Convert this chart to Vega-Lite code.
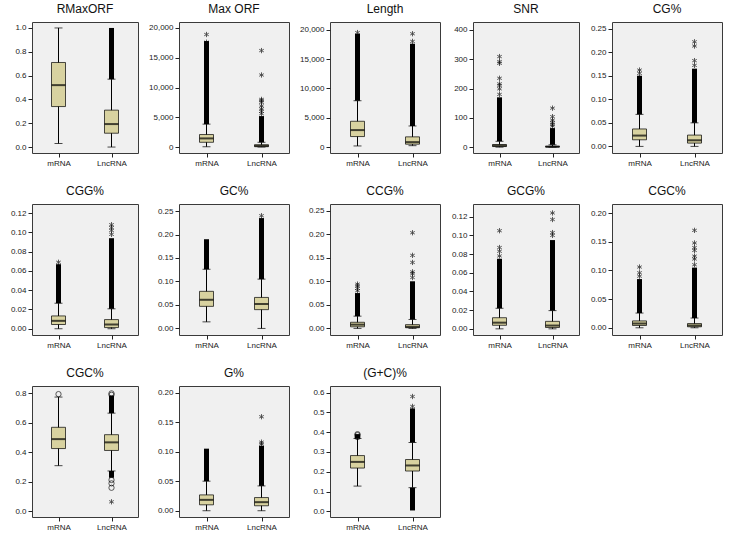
{
"$schema": "https://vega.github.io/schema/vega-lite/v6.json",
"background": "white",
"padding": {"left": 9, "right": 2, "top": 2, "bottom": 0},
"columns": 5,
"spacing": {"row": 16, "column": 9},
"datasets": {
"stats": [
{"panel":"RMaxORF","group":"mRNA","lo":0.03,"q1":0.34,"med":0.52,"q3":0.71,"hi":1.0},
{"panel":"RMaxORF","group":"LncRNA","lo":0,"q1":0.116,"med":0.193,"q3":0.31,"hi":0.57},
{"panel":"MaxORF","group":"mRNA","lo":50,"q1":800,"med":1450,"q3":2100,"hi":3850},
{"panel":"MaxORF","group":"LncRNA","lo":0,"q1":60,"med":200,"q3":390,"hi":800},
{"panel":"Length","group":"mRNA","lo":200,"q1":1800,"med":2900,"q3":4400,"hi":7900},
{"panel":"Length","group":"LncRNA","lo":250,"q1":500,"med":850,"q3":1750,"hi":3600},
{"panel":"SNR","group":"mRNA","lo":0,"q1":2,"med":5,"q3":9,"hi":20},
{"panel":"SNR","group":"LncRNA","lo":0,"q1":0.5,"med":1.5,"q3":3,"hi":8},
{"panel":"CG%","group":"mRNA","lo":0,"q1":0.014,"med":0.023,"q3":0.037,"hi":0.068},
{"panel":"CG%","group":"LncRNA","lo":0,"q1":0.007,"med":0.013,"q3":0.024,"hi":0.05},
{"panel":"CGG%","group":"mRNA","lo":0,"q1":0.0044,"med":0.0082,"q3":0.0133,"hi":0.0265},
{"panel":"CGG%","group":"LncRNA","lo":0,"q1":0.0012,"med":0.0044,"q3":0.0095,"hi":0.0207},
{"panel":"GC%","group":"mRNA","lo":0.014,"q1":0.047,"med":0.061,"q3":0.079,"hi":0.126},
{"panel":"GC%","group":"LncRNA","lo":0,"q1":0.04,"med":0.052,"q3":0.066,"hi":0.105},
{"panel":"CCG%","group":"mRNA","lo":0,"q1":0.0034,"med":0.008,"q3":0.013,"hi":0.026},
{"panel":"CCG%","group":"LncRNA","lo":0,"q1":0.0014,"med":0.0034,"q3":0.008,"hi":0.019},
{"panel":"GCG%","group":"mRNA","lo":0,"q1":0.0038,"med":0.0066,"q3":0.0119,"hi":0.022},
{"panel":"GCG%","group":"LncRNA","lo":0,"q1":0.0014,"med":0.0035,"q3":0.008,"hi":0.0195},
{"panel":"CGC%_1","group":"mRNA","lo":0,"q1":0.004,"med":0.0074,"q3":0.012,"hi":0.0257},
{"panel":"CGC%_1","group":"LncRNA","lo":0,"q1":0.0017,"med":0.004,"q3":0.0074,"hi":0.017},
{"panel":"CGC%_2","group":"mRNA","lo":0.31,"q1":0.426,"med":0.49,"q3":0.57,"hi":0.775},
{"panel":"CGC%_2","group":"LncRNA","lo":0.274,"q1":0.413,"med":0.468,"q3":0.52,"hi":0.666},
{"panel":"G%","group":"mRNA","lo":0,"q1":0.01,"med":0.0184,"q3":0.0268,"hi":0.05},
{"panel":"G%","group":"LncRNA","lo":0,"q1":0.0084,"med":0.0145,"q3":0.0223,"hi":0.042},
{"panel":"(G+C)%","group":"mRNA","lo":0.128,"q1":0.219,"med":0.25,"q3":0.282,"hi":0.368},
{"panel":"(G+C)%","group":"LncRNA","lo":0.12,"q1":0.204,"med":0.232,"q3":0.262,"hi":0.348}
],
"dense": [
{"panel":"RMaxORF","group":"LncRNA","lo":0.57,"hi":1.0},
{"panel":"MaxORF","group":"mRNA","lo":3850,"hi":17800},
{"panel":"MaxORF","group":"LncRNA","lo":800,"hi":5200},
{"panel":"Length","group":"mRNA","lo":7900,"hi":19300},
{"panel":"Length","group":"LncRNA","lo":3600,"hi":17600},
{"panel":"SNR","group":"mRNA","lo":20,"hi":170},
{"panel":"SNR","group":"LncRNA","lo":8,"hi":65},
{"panel":"CG%","group":"mRNA","lo":0.068,"hi":0.15},
{"panel":"CG%","group":"LncRNA","lo":0.05,"hi":0.165},
{"panel":"CGG%","group":"mRNA","lo":0.0265,"hi":0.067},
{"panel":"CGG%","group":"LncRNA","lo":0.0207,"hi":0.094},
{"panel":"GC%","group":"mRNA","lo":0.126,"hi":0.19},
{"panel":"GC%","group":"LncRNA","lo":0.105,"hi":0.235},
{"panel":"CCG%","group":"mRNA","lo":0.026,"hi":0.075},
{"panel":"CCG%","group":"LncRNA","lo":0.019,"hi":0.1},
{"panel":"GCG%","group":"mRNA","lo":0.022,"hi":0.075},
{"panel":"GCG%","group":"LncRNA","lo":0.0195,"hi":0.095},
{"panel":"CGC%_1","group":"mRNA","lo":0.0257,"hi":0.085},
{"panel":"CGC%_1","group":"LncRNA","lo":0.017,"hi":0.105},
{"panel":"CGC%_2","group":"LncRNA","lo":0.666,"hi":0.785},
{"panel":"CGC%_2","group":"LncRNA","lo":0.228,"hi":0.274},
{"panel":"G%","group":"mRNA","lo":0.05,"hi":0.105},
{"panel":"G%","group":"LncRNA","lo":0.042,"hi":0.11},
{"panel":"(G+C)%","group":"mRNA","lo":0.368,"hi":0.39},
{"panel":"(G+C)%","group":"LncRNA","lo":0.348,"hi":0.52},
{"panel":"(G+C)%","group":"LncRNA","lo":0.005,"hi":0.12}
],
"stars": [
{"panel":"MaxORF","group":"mRNA","value":17600,"kind":"extreme"},
{"panel":"MaxORF","group":"mRNA","value":18900,"kind":"extreme"},
{"panel":"MaxORF","group":"LncRNA","value":5600,"kind":"extreme"},
{"panel":"MaxORF","group":"LncRNA","value":6000,"kind":"extreme"},
{"panel":"MaxORF","group":"LncRNA","value":6400,"kind":"extreme"},
{"panel":"MaxORF","group":"LncRNA","value":6900,"kind":"extreme"},
{"panel":"MaxORF","group":"LncRNA","value":7500,"kind":"extreme"},
{"panel":"MaxORF","group":"LncRNA","value":7800,"kind":"extreme"},
{"panel":"MaxORF","group":"LncRNA","value":8000,"kind":"extreme"},
{"panel":"MaxORF","group":"LncRNA","value":12100,"kind":"extreme"},
{"panel":"MaxORF","group":"LncRNA","value":16200,"kind":"extreme"},
{"panel":"Length","group":"mRNA","value":19500,"kind":"extreme"},
{"panel":"Length","group":"LncRNA","value":18000,"kind":"extreme"},
{"panel":"Length","group":"LncRNA","value":19300,"kind":"extreme"},
{"panel":"SNR","group":"mRNA","value":180,"kind":"extreme"},
{"panel":"SNR","group":"mRNA","value":199,"kind":"extreme"},
{"panel":"SNR","group":"mRNA","value":210,"kind":"extreme"},
{"panel":"SNR","group":"mRNA","value":216,"kind":"extreme"},
{"panel":"SNR","group":"mRNA","value":235,"kind":"extreme"},
{"panel":"SNR","group":"mRNA","value":286,"kind":"extreme"},
{"panel":"SNR","group":"mRNA","value":292,"kind":"extreme"},
{"panel":"SNR","group":"mRNA","value":309,"kind":"extreme"},
{"panel":"SNR","group":"LncRNA","value":72,"kind":"extreme"},
{"panel":"SNR","group":"LncRNA","value":78,"kind":"extreme"},
{"panel":"SNR","group":"LncRNA","value":84,"kind":"extreme"},
{"panel":"SNR","group":"LncRNA","value":92,"kind":"extreme"},
{"panel":"SNR","group":"LncRNA","value":104,"kind":"extreme"},
{"panel":"SNR","group":"LncRNA","value":133,"kind":"extreme"},
{"panel":"CG%","group":"mRNA","value":0.155,"kind":"extreme"},
{"panel":"CG%","group":"mRNA","value":0.162,"kind":"extreme"},
{"panel":"CG%","group":"LncRNA","value":0.172,"kind":"extreme"},
{"panel":"CG%","group":"LncRNA","value":0.182,"kind":"extreme"},
{"panel":"CG%","group":"LncRNA","value":0.213,"kind":"extreme"},
{"panel":"CG%","group":"LncRNA","value":0.222,"kind":"extreme"},
{"panel":"CGG%","group":"mRNA","value":0.069,"kind":"extreme"},
{"panel":"CGG%","group":"LncRNA","value":0.098,"kind":"extreme"},
{"panel":"CGG%","group":"LncRNA","value":0.102,"kind":"extreme"},
{"panel":"CGG%","group":"LncRNA","value":0.105,"kind":"extreme"},
{"panel":"CGG%","group":"LncRNA","value":0.108,"kind":"extreme"},
{"panel":"GC%","group":"LncRNA","value":0.24,"kind":"extreme"},
{"panel":"CCG%","group":"mRNA","value":0.08,"kind":"extreme"},
{"panel":"CCG%","group":"mRNA","value":0.085,"kind":"extreme"},
{"panel":"CCG%","group":"mRNA","value":0.09,"kind":"extreme"},
{"panel":"CCG%","group":"mRNA","value":0.094,"kind":"extreme"},
{"panel":"CCG%","group":"LncRNA","value":0.108,"kind":"extreme"},
{"panel":"CCG%","group":"LncRNA","value":0.116,"kind":"extreme"},
{"panel":"CCG%","group":"LncRNA","value":0.12,"kind":"extreme"},
{"panel":"CCG%","group":"LncRNA","value":0.14,"kind":"extreme"},
{"panel":"CCG%","group":"LncRNA","value":0.155,"kind":"extreme"},
{"panel":"CCG%","group":"LncRNA","value":0.203,"kind":"extreme"},
{"panel":"GCG%","group":"mRNA","value":0.078,"kind":"extreme"},
{"panel":"GCG%","group":"mRNA","value":0.083,"kind":"extreme"},
{"panel":"GCG%","group":"mRNA","value":0.087,"kind":"extreme"},
{"panel":"GCG%","group":"mRNA","value":0.105,"kind":"extreme"},
{"panel":"GCG%","group":"LncRNA","value":0.1,"kind":"extreme"},
{"panel":"GCG%","group":"LncRNA","value":0.103,"kind":"extreme"},
{"panel":"GCG%","group":"LncRNA","value":0.117,"kind":"extreme"},
{"panel":"GCG%","group":"LncRNA","value":0.124,"kind":"extreme"},
{"panel":"CGC%_1","group":"mRNA","value":0.09,"kind":"extreme"},
{"panel":"CGC%_1","group":"mRNA","value":0.096,"kind":"extreme"},
{"panel":"CGC%_1","group":"mRNA","value":0.106,"kind":"extreme"},
{"panel":"CGC%_1","group":"LncRNA","value":0.11,"kind":"extreme"},
{"panel":"CGC%_1","group":"LncRNA","value":0.12,"kind":"extreme"},
{"panel":"CGC%_1","group":"LncRNA","value":0.125,"kind":"extreme"},
{"panel":"CGC%_1","group":"LncRNA","value":0.135,"kind":"extreme"},
{"panel":"CGC%_1","group":"LncRNA","value":0.14,"kind":"extreme"},
{"panel":"CGC%_1","group":"LncRNA","value":0.148,"kind":"extreme"},
{"panel":"CGC%_1","group":"LncRNA","value":0.17,"kind":"extreme"},
{"panel":"CGC%_2","group":"mRNA","value":0.795,"kind":"outlier"},
{"panel":"CGC%_2","group":"LncRNA","value":0.79,"kind":"outlier"},
{"panel":"CGC%_2","group":"LncRNA","value":0.8,"kind":"outlier"},
{"panel":"CGC%_2","group":"LncRNA","value":0.213,"kind":"outlier"},
{"panel":"CGC%_2","group":"LncRNA","value":0.19,"kind":"outlier"},
{"panel":"CGC%_2","group":"LncRNA","value":0.16,"kind":"outlier"},
{"panel":"CGC%_2","group":"LncRNA","value":0.065,"kind":"extreme"},
{"panel":"G%","group":"LncRNA","value":0.113,"kind":"extreme"},
{"panel":"G%","group":"LncRNA","value":0.116,"kind":"extreme"},
{"panel":"G%","group":"LncRNA","value":0.159,"kind":"extreme"},
{"panel":"(G+C)%","group":"mRNA","value":0.375,"kind":"outlier"},
{"panel":"(G+C)%","group":"mRNA","value":0.385,"kind":"outlier"},
{"panel":"(G+C)%","group":"mRNA","value":0.39,"kind":"outlier"},
{"panel":"(G+C)%","group":"LncRNA","value":0.53,"kind":"extreme"},
{"panel":"(G+C)%","group":"LncRNA","value":0.58,"kind":"extreme"}
]
},
"concat": [
{"title":"RMaxORF","width":106,"height":131,
"encoding":{"x":{"field":"group","type":"nominal","title":null,"scale":{"type":"point","padding":0.5,"domain":["mRNA","LncRNA"]},"axis":{"labelAngle":0}}},
"layer":[
{"data":{"name":"stats"},"transform":[{"filter":"datum.panel==='RMaxORF'"}],"mark":{"type":"rule","color":"black","strokeWidth":1},"encoding":{"y":{"field":"lo","type":"quantitative","title":null,"scale":{"domain":[-0.05,1.05],"nice":false,"zero":false},"axis":{"values":[0,0.2,0.4,0.6,0.8,1.0],"tickCount":50,"labelExpr":"format(datum.value, '.1f')"}},"y2":{"field":"hi"}}},
{"data":{"name":"stats"},"transform":[{"filter":"datum.panel==='RMaxORF'"}],"mark":{"type":"tick","color":"black","size":8,"thickness":1},"encoding":{"y":{"field":"lo","type":"quantitative","title":null}}},
{"data":{"name":"stats"},"transform":[{"filter":"datum.panel==='RMaxORF'"}],"mark":{"type":"tick","color":"black","size":8,"thickness":1},"encoding":{"y":{"field":"hi","type":"quantitative","title":null}}},
{"data":{"name":"dense"},"transform":[{"filter":"datum.panel==='RMaxORF'"}],"mark":{"type":"rule","color":"black","strokeWidth":5},"encoding":{"y":{"field":"lo","type":"quantitative","title":null},"y2":{"field":"hi"}}},
{"data":{"name":"stats"},"transform":[{"filter":"datum.panel==='RMaxORF'"}],"mark":{"type":"bar","width":14,"fill":"#d8d2a0","stroke":"black","strokeWidth":0.7},"encoding":{"y":{"field":"q1","type":"quantitative","title":null},"y2":{"field":"q3"}}},
{"data":{"name":"stats"},"transform":[{"filter":"datum.panel==='RMaxORF'"}],"mark":{"type":"tick","color":"black","size":14,"thickness":2},"encoding":{"y":{"field":"med","type":"quantitative","title":null}}},
{"data":{"name":"stars"},"transform":[{"filter":"datum.panel==='RMaxORF'"}],"mark":{"type":"point","filled":false,"stroke":"black","strokeWidth":0.9,"size":28},"encoding":{"y":{"field":"value","type":"quantitative","title":null},"shape":{"field":"kind","type":"nominal","legend":null,"scale":{"domain":["extreme","outlier"],"range":["M0,-1L0,1M-0.866,-0.5L0.866,0.5M-0.866,0.5L0.866,-0.5","circle"]}}}}
]},
{"title":"Max ORF","width":110,"height":131,
"encoding":{"x":{"field":"group","type":"nominal","title":null,"scale":{"type":"point","padding":0.5,"domain":["mRNA","LncRNA"]},"axis":{"labelAngle":0}}},
"layer":[
{"data":{"name":"stats"},"transform":[{"filter":"datum.panel==='MaxORF'"}],"mark":{"type":"rule","color":"black","strokeWidth":1},"encoding":{"y":{"field":"lo","type":"quantitative","title":null,"scale":{"domain":[-1000,21000],"nice":false,"zero":false},"axis":{"values":[0,5000,10000,15000,20000],"tickCount":50,"labelExpr":"format(datum.value, ',.0f')"}},"y2":{"field":"hi"}}},
{"data":{"name":"stats"},"transform":[{"filter":"datum.panel==='MaxORF'"}],"mark":{"type":"tick","color":"black","size":8,"thickness":1},"encoding":{"y":{"field":"lo","type":"quantitative","title":null}}},
{"data":{"name":"stats"},"transform":[{"filter":"datum.panel==='MaxORF'"}],"mark":{"type":"tick","color":"black","size":8,"thickness":1},"encoding":{"y":{"field":"hi","type":"quantitative","title":null}}},
{"data":{"name":"dense"},"transform":[{"filter":"datum.panel==='MaxORF'"}],"mark":{"type":"rule","color":"black","strokeWidth":5},"encoding":{"y":{"field":"lo","type":"quantitative","title":null},"y2":{"field":"hi"}}},
{"data":{"name":"stats"},"transform":[{"filter":"datum.panel==='MaxORF'"}],"mark":{"type":"bar","width":14,"fill":"#d8d2a0","stroke":"black","strokeWidth":0.7},"encoding":{"y":{"field":"q1","type":"quantitative","title":null},"y2":{"field":"q3"}}},
{"data":{"name":"stats"},"transform":[{"filter":"datum.panel==='MaxORF'"}],"mark":{"type":"tick","color":"black","size":14,"thickness":2},"encoding":{"y":{"field":"med","type":"quantitative","title":null}}},
{"data":{"name":"stars"},"transform":[{"filter":"datum.panel==='MaxORF'"}],"mark":{"type":"point","filled":false,"stroke":"black","strokeWidth":0.9,"size":28},"encoding":{"y":{"field":"value","type":"quantitative","title":null},"shape":{"field":"kind","type":"nominal","legend":null,"scale":{"domain":["extreme","outlier"],"range":["M0,-1L0,1M-0.866,-0.5L0.866,0.5M-0.866,0.5L0.866,-0.5","circle"]}}}}
]},
{"title":"Length","width":110,"height":131,
"encoding":{"x":{"field":"group","type":"nominal","title":null,"scale":{"type":"point","padding":0.5,"domain":["mRNA","LncRNA"]},"axis":{"labelAngle":0}}},
"layer":[
{"data":{"name":"stats"},"transform":[{"filter":"datum.panel==='Length'"}],"mark":{"type":"rule","color":"black","strokeWidth":1},"encoding":{"y":{"field":"lo","type":"quantitative","title":null,"scale":{"domain":[-1000,21300],"nice":false,"zero":false},"axis":{"values":[0,5000,10000,15000,20000],"tickCount":50,"labelExpr":"format(datum.value, ',.0f')"}},"y2":{"field":"hi"}}},
{"data":{"name":"stats"},"transform":[{"filter":"datum.panel==='Length'"}],"mark":{"type":"tick","color":"black","size":8,"thickness":1},"encoding":{"y":{"field":"lo","type":"quantitative","title":null}}},
{"data":{"name":"stats"},"transform":[{"filter":"datum.panel==='Length'"}],"mark":{"type":"tick","color":"black","size":8,"thickness":1},"encoding":{"y":{"field":"hi","type":"quantitative","title":null}}},
{"data":{"name":"dense"},"transform":[{"filter":"datum.panel==='Length'"}],"mark":{"type":"rule","color":"black","strokeWidth":5},"encoding":{"y":{"field":"lo","type":"quantitative","title":null},"y2":{"field":"hi"}}},
{"data":{"name":"stats"},"transform":[{"filter":"datum.panel==='Length'"}],"mark":{"type":"bar","width":14,"fill":"#d8d2a0","stroke":"black","strokeWidth":0.7},"encoding":{"y":{"field":"q1","type":"quantitative","title":null},"y2":{"field":"q3"}}},
{"data":{"name":"stats"},"transform":[{"filter":"datum.panel==='Length'"}],"mark":{"type":"tick","color":"black","size":14,"thickness":2},"encoding":{"y":{"field":"med","type":"quantitative","title":null}}},
{"data":{"name":"stars"},"transform":[{"filter":"datum.panel==='Length'"}],"mark":{"type":"point","filled":false,"stroke":"black","strokeWidth":0.9,"size":28},"encoding":{"y":{"field":"value","type":"quantitative","title":null},"shape":{"field":"kind","type":"nominal","legend":null,"scale":{"domain":["extreme","outlier"],"range":["M0,-1L0,1M-0.866,-0.5L0.866,0.5M-0.866,0.5L0.866,-0.5","circle"]}}}}
]},
{"title":"SNR","width":106,"height":131,
"encoding":{"x":{"field":"group","type":"nominal","title":null,"scale":{"type":"point","padding":0.5,"domain":["mRNA","LncRNA"]},"axis":{"labelAngle":0}}},
"layer":[
{"data":{"name":"stats"},"transform":[{"filter":"datum.panel==='SNR'"}],"mark":{"type":"rule","color":"black","strokeWidth":1},"encoding":{"y":{"field":"lo","type":"quantitative","title":null,"scale":{"domain":[-20,427],"nice":false,"zero":false},"axis":{"values":[0,100,200,300,400],"tickCount":50,"labelExpr":"format(datum.value, 'd')"}},"y2":{"field":"hi"}}},
{"data":{"name":"stats"},"transform":[{"filter":"datum.panel==='SNR'"}],"mark":{"type":"tick","color":"black","size":8,"thickness":1},"encoding":{"y":{"field":"lo","type":"quantitative","title":null}}},
{"data":{"name":"stats"},"transform":[{"filter":"datum.panel==='SNR'"}],"mark":{"type":"tick","color":"black","size":8,"thickness":1},"encoding":{"y":{"field":"hi","type":"quantitative","title":null}}},
{"data":{"name":"dense"},"transform":[{"filter":"datum.panel==='SNR'"}],"mark":{"type":"rule","color":"black","strokeWidth":5},"encoding":{"y":{"field":"lo","type":"quantitative","title":null},"y2":{"field":"hi"}}},
{"data":{"name":"stats"},"transform":[{"filter":"datum.panel==='SNR'"}],"mark":{"type":"bar","width":14,"fill":"#d8d2a0","stroke":"black","strokeWidth":0.7},"encoding":{"y":{"field":"q1","type":"quantitative","title":null},"y2":{"field":"q3"}}},
{"data":{"name":"stats"},"transform":[{"filter":"datum.panel==='SNR'"}],"mark":{"type":"tick","color":"black","size":14,"thickness":2},"encoding":{"y":{"field":"med","type":"quantitative","title":null}}},
{"data":{"name":"stars"},"transform":[{"filter":"datum.panel==='SNR'"}],"mark":{"type":"point","filled":false,"stroke":"black","strokeWidth":0.9,"size":28},"encoding":{"y":{"field":"value","type":"quantitative","title":null},"shape":{"field":"kind","type":"nominal","legend":null,"scale":{"domain":["extreme","outlier"],"range":["M0,-1L0,1M-0.866,-0.5L0.866,0.5M-0.866,0.5L0.866,-0.5","circle"]}}}}
]},
{"title":"CG%","width":110,"height":131,
"encoding":{"x":{"field":"group","type":"nominal","title":null,"scale":{"type":"point","padding":0.5,"domain":["mRNA","LncRNA"]},"axis":{"labelAngle":0}}},
"layer":[
{"data":{"name":"stats"},"transform":[{"filter":"datum.panel==='CG%'"}],"mark":{"type":"rule","color":"black","strokeWidth":1},"encoding":{"y":{"field":"lo","type":"quantitative","title":null,"scale":{"domain":[-0.014,0.264],"nice":false,"zero":false},"axis":{"values":[0,0.05,0.1,0.15,0.2,0.25],"tickCount":50,"labelExpr":"format(datum.value, '.2f')"}},"y2":{"field":"hi"}}},
{"data":{"name":"stats"},"transform":[{"filter":"datum.panel==='CG%'"}],"mark":{"type":"tick","color":"black","size":8,"thickness":1},"encoding":{"y":{"field":"lo","type":"quantitative","title":null}}},
{"data":{"name":"stats"},"transform":[{"filter":"datum.panel==='CG%'"}],"mark":{"type":"tick","color":"black","size":8,"thickness":1},"encoding":{"y":{"field":"hi","type":"quantitative","title":null}}},
{"data":{"name":"dense"},"transform":[{"filter":"datum.panel==='CG%'"}],"mark":{"type":"rule","color":"black","strokeWidth":5},"encoding":{"y":{"field":"lo","type":"quantitative","title":null},"y2":{"field":"hi"}}},
{"data":{"name":"stats"},"transform":[{"filter":"datum.panel==='CG%'"}],"mark":{"type":"bar","width":14,"fill":"#d8d2a0","stroke":"black","strokeWidth":0.7},"encoding":{"y":{"field":"q1","type":"quantitative","title":null},"y2":{"field":"q3"}}},
{"data":{"name":"stats"},"transform":[{"filter":"datum.panel==='CG%'"}],"mark":{"type":"tick","color":"black","size":14,"thickness":2},"encoding":{"y":{"field":"med","type":"quantitative","title":null}}},
{"data":{"name":"stars"},"transform":[{"filter":"datum.panel==='CG%'"}],"mark":{"type":"point","filled":false,"stroke":"black","strokeWidth":0.9,"size":28},"encoding":{"y":{"field":"value","type":"quantitative","title":null},"shape":{"field":"kind","type":"nominal","legend":null,"scale":{"domain":["extreme","outlier"],"range":["M0,-1L0,1M-0.866,-0.5L0.866,0.5M-0.866,0.5L0.866,-0.5","circle"]}}}}
]},
{"title":"CGG%","width":106,"height":131,
"encoding":{"x":{"field":"group","type":"nominal","title":null,"scale":{"type":"point","padding":0.5,"domain":["mRNA","LncRNA"]},"axis":{"labelAngle":0}}},
"layer":[
{"data":{"name":"stats"},"transform":[{"filter":"datum.panel==='CGG%'"}],"mark":{"type":"rule","color":"black","strokeWidth":1},"encoding":{"y":{"field":"lo","type":"quantitative","title":null,"scale":{"domain":[-0.0065,0.1295],"nice":false,"zero":false},"axis":{"values":[0,0.02,0.04,0.06,0.08,0.1,0.12],"tickCount":50,"labelExpr":"format(datum.value, '.2f')"}},"y2":{"field":"hi"}}},
{"data":{"name":"stats"},"transform":[{"filter":"datum.panel==='CGG%'"}],"mark":{"type":"tick","color":"black","size":8,"thickness":1},"encoding":{"y":{"field":"lo","type":"quantitative","title":null}}},
{"data":{"name":"stats"},"transform":[{"filter":"datum.panel==='CGG%'"}],"mark":{"type":"tick","color":"black","size":8,"thickness":1},"encoding":{"y":{"field":"hi","type":"quantitative","title":null}}},
{"data":{"name":"dense"},"transform":[{"filter":"datum.panel==='CGG%'"}],"mark":{"type":"rule","color":"black","strokeWidth":5},"encoding":{"y":{"field":"lo","type":"quantitative","title":null},"y2":{"field":"hi"}}},
{"data":{"name":"stats"},"transform":[{"filter":"datum.panel==='CGG%'"}],"mark":{"type":"bar","width":14,"fill":"#d8d2a0","stroke":"black","strokeWidth":0.7},"encoding":{"y":{"field":"q1","type":"quantitative","title":null},"y2":{"field":"q3"}}},
{"data":{"name":"stats"},"transform":[{"filter":"datum.panel==='CGG%'"}],"mark":{"type":"tick","color":"black","size":14,"thickness":2},"encoding":{"y":{"field":"med","type":"quantitative","title":null}}},
{"data":{"name":"stars"},"transform":[{"filter":"datum.panel==='CGG%'"}],"mark":{"type":"point","filled":false,"stroke":"black","strokeWidth":0.9,"size":28},"encoding":{"y":{"field":"value","type":"quantitative","title":null},"shape":{"field":"kind","type":"nominal","legend":null,"scale":{"domain":["extreme","outlier"],"range":["M0,-1L0,1M-0.866,-0.5L0.866,0.5M-0.866,0.5L0.866,-0.5","circle"]}}}}
]},
{"title":"GC%","width":110,"height":131,
"encoding":{"x":{"field":"group","type":"nominal","title":null,"scale":{"type":"point","padding":0.5,"domain":["mRNA","LncRNA"]},"axis":{"labelAngle":0}}},
"layer":[
{"data":{"name":"stats"},"transform":[{"filter":"datum.panel==='GC%'"}],"mark":{"type":"rule","color":"black","strokeWidth":1},"encoding":{"y":{"field":"lo","type":"quantitative","title":null,"scale":{"domain":[-0.014,0.265],"nice":false,"zero":false},"axis":{"values":[0,0.05,0.1,0.15,0.2,0.25],"tickCount":50,"labelExpr":"format(datum.value, '.2f')"}},"y2":{"field":"hi"}}},
{"data":{"name":"stats"},"transform":[{"filter":"datum.panel==='GC%'"}],"mark":{"type":"tick","color":"black","size":8,"thickness":1},"encoding":{"y":{"field":"lo","type":"quantitative","title":null}}},
{"data":{"name":"stats"},"transform":[{"filter":"datum.panel==='GC%'"}],"mark":{"type":"tick","color":"black","size":8,"thickness":1},"encoding":{"y":{"field":"hi","type":"quantitative","title":null}}},
{"data":{"name":"dense"},"transform":[{"filter":"datum.panel==='GC%'"}],"mark":{"type":"rule","color":"black","strokeWidth":5},"encoding":{"y":{"field":"lo","type":"quantitative","title":null},"y2":{"field":"hi"}}},
{"data":{"name":"stats"},"transform":[{"filter":"datum.panel==='GC%'"}],"mark":{"type":"bar","width":14,"fill":"#d8d2a0","stroke":"black","strokeWidth":0.7},"encoding":{"y":{"field":"q1","type":"quantitative","title":null},"y2":{"field":"q3"}}},
{"data":{"name":"stats"},"transform":[{"filter":"datum.panel==='GC%'"}],"mark":{"type":"tick","color":"black","size":14,"thickness":2},"encoding":{"y":{"field":"med","type":"quantitative","title":null}}},
{"data":{"name":"stars"},"transform":[{"filter":"datum.panel==='GC%'"}],"mark":{"type":"point","filled":false,"stroke":"black","strokeWidth":0.9,"size":28},"encoding":{"y":{"field":"value","type":"quantitative","title":null},"shape":{"field":"kind","type":"nominal","legend":null,"scale":{"domain":["extreme","outlier"],"range":["M0,-1L0,1M-0.866,-0.5L0.866,0.5M-0.866,0.5L0.866,-0.5","circle"]}}}}
]},
{"title":"CCG%","width":110,"height":131,
"encoding":{"x":{"field":"group","type":"nominal","title":null,"scale":{"type":"point","padding":0.5,"domain":["mRNA","LncRNA"]},"axis":{"labelAngle":0}}},
"layer":[
{"data":{"name":"stats"},"transform":[{"filter":"datum.panel==='CCG%'"}],"mark":{"type":"rule","color":"black","strokeWidth":1},"encoding":{"y":{"field":"lo","type":"quantitative","title":null,"scale":{"domain":[-0.014,0.264],"nice":false,"zero":false},"axis":{"values":[0,0.05,0.1,0.15,0.2,0.25],"tickCount":50,"labelExpr":"format(datum.value, '.2f')"}},"y2":{"field":"hi"}}},
{"data":{"name":"stats"},"transform":[{"filter":"datum.panel==='CCG%'"}],"mark":{"type":"tick","color":"black","size":8,"thickness":1},"encoding":{"y":{"field":"lo","type":"quantitative","title":null}}},
{"data":{"name":"stats"},"transform":[{"filter":"datum.panel==='CCG%'"}],"mark":{"type":"tick","color":"black","size":8,"thickness":1},"encoding":{"y":{"field":"hi","type":"quantitative","title":null}}},
{"data":{"name":"dense"},"transform":[{"filter":"datum.panel==='CCG%'"}],"mark":{"type":"rule","color":"black","strokeWidth":5},"encoding":{"y":{"field":"lo","type":"quantitative","title":null},"y2":{"field":"hi"}}},
{"data":{"name":"stats"},"transform":[{"filter":"datum.panel==='CCG%'"}],"mark":{"type":"bar","width":14,"fill":"#d8d2a0","stroke":"black","strokeWidth":0.7},"encoding":{"y":{"field":"q1","type":"quantitative","title":null},"y2":{"field":"q3"}}},
{"data":{"name":"stats"},"transform":[{"filter":"datum.panel==='CCG%'"}],"mark":{"type":"tick","color":"black","size":14,"thickness":2},"encoding":{"y":{"field":"med","type":"quantitative","title":null}}},
{"data":{"name":"stars"},"transform":[{"filter":"datum.panel==='CCG%'"}],"mark":{"type":"point","filled":false,"stroke":"black","strokeWidth":0.9,"size":28},"encoding":{"y":{"field":"value","type":"quantitative","title":null},"shape":{"field":"kind","type":"nominal","legend":null,"scale":{"domain":["extreme","outlier"],"range":["M0,-1L0,1M-0.866,-0.5L0.866,0.5M-0.866,0.5L0.866,-0.5","circle"]}}}}
]},
{"title":"GCG%","width":106,"height":131,
"encoding":{"x":{"field":"group","type":"nominal","title":null,"scale":{"type":"point","padding":0.5,"domain":["mRNA","LncRNA"]},"axis":{"labelAngle":0}}},
"layer":[
{"data":{"name":"stats"},"transform":[{"filter":"datum.panel==='GCG%'"}],"mark":{"type":"rule","color":"black","strokeWidth":1},"encoding":{"y":{"field":"lo","type":"quantitative","title":null,"scale":{"domain":[-0.0066,0.1336],"nice":false,"zero":false},"axis":{"values":[0,0.02,0.04,0.06,0.08,0.1,0.12],"tickCount":50,"labelExpr":"format(datum.value, '.2f')"}},"y2":{"field":"hi"}}},
{"data":{"name":"stats"},"transform":[{"filter":"datum.panel==='GCG%'"}],"mark":{"type":"tick","color":"black","size":8,"thickness":1},"encoding":{"y":{"field":"lo","type":"quantitative","title":null}}},
{"data":{"name":"stats"},"transform":[{"filter":"datum.panel==='GCG%'"}],"mark":{"type":"tick","color":"black","size":8,"thickness":1},"encoding":{"y":{"field":"hi","type":"quantitative","title":null}}},
{"data":{"name":"dense"},"transform":[{"filter":"datum.panel==='GCG%'"}],"mark":{"type":"rule","color":"black","strokeWidth":5},"encoding":{"y":{"field":"lo","type":"quantitative","title":null},"y2":{"field":"hi"}}},
{"data":{"name":"stats"},"transform":[{"filter":"datum.panel==='GCG%'"}],"mark":{"type":"bar","width":14,"fill":"#d8d2a0","stroke":"black","strokeWidth":0.7},"encoding":{"y":{"field":"q1","type":"quantitative","title":null},"y2":{"field":"q3"}}},
{"data":{"name":"stats"},"transform":[{"filter":"datum.panel==='GCG%'"}],"mark":{"type":"tick","color":"black","size":14,"thickness":2},"encoding":{"y":{"field":"med","type":"quantitative","title":null}}},
{"data":{"name":"stars"},"transform":[{"filter":"datum.panel==='GCG%'"}],"mark":{"type":"point","filled":false,"stroke":"black","strokeWidth":0.9,"size":28},"encoding":{"y":{"field":"value","type":"quantitative","title":null},"shape":{"field":"kind","type":"nominal","legend":null,"scale":{"domain":["extreme","outlier"],"range":["M0,-1L0,1M-0.866,-0.5L0.866,0.5M-0.866,0.5L0.866,-0.5","circle"]}}}}
]},
{"title":"CGC%","width":110,"height":131,
"encoding":{"x":{"field":"group","type":"nominal","title":null,"scale":{"type":"point","padding":0.5,"domain":["mRNA","LncRNA"]},"axis":{"labelAngle":0}}},
"layer":[
{"data":{"name":"stats"},"transform":[{"filter":"datum.panel==='CGC%_1'"}],"mark":{"type":"rule","color":"black","strokeWidth":1},"encoding":{"y":{"field":"lo","type":"quantitative","title":null,"scale":{"domain":[-0.0126,0.216],"nice":false,"zero":false},"axis":{"values":[0,0.05,0.1,0.15,0.2],"tickCount":50,"labelExpr":"format(datum.value, '.2f')"}},"y2":{"field":"hi"}}},
{"data":{"name":"stats"},"transform":[{"filter":"datum.panel==='CGC%_1'"}],"mark":{"type":"tick","color":"black","size":8,"thickness":1},"encoding":{"y":{"field":"lo","type":"quantitative","title":null}}},
{"data":{"name":"stats"},"transform":[{"filter":"datum.panel==='CGC%_1'"}],"mark":{"type":"tick","color":"black","size":8,"thickness":1},"encoding":{"y":{"field":"hi","type":"quantitative","title":null}}},
{"data":{"name":"dense"},"transform":[{"filter":"datum.panel==='CGC%_1'"}],"mark":{"type":"rule","color":"black","strokeWidth":5},"encoding":{"y":{"field":"lo","type":"quantitative","title":null},"y2":{"field":"hi"}}},
{"data":{"name":"stats"},"transform":[{"filter":"datum.panel==='CGC%_1'"}],"mark":{"type":"bar","width":14,"fill":"#d8d2a0","stroke":"black","strokeWidth":0.7},"encoding":{"y":{"field":"q1","type":"quantitative","title":null},"y2":{"field":"q3"}}},
{"data":{"name":"stats"},"transform":[{"filter":"datum.panel==='CGC%_1'"}],"mark":{"type":"tick","color":"black","size":14,"thickness":2},"encoding":{"y":{"field":"med","type":"quantitative","title":null}}},
{"data":{"name":"stars"},"transform":[{"filter":"datum.panel==='CGC%_1'"}],"mark":{"type":"point","filled":false,"stroke":"black","strokeWidth":0.9,"size":28},"encoding":{"y":{"field":"value","type":"quantitative","title":null},"shape":{"field":"kind","type":"nominal","legend":null,"scale":{"domain":["extreme","outlier"],"range":["M0,-1L0,1M-0.866,-0.5L0.866,0.5M-0.866,0.5L0.866,-0.5","circle"]}}}}
]},
{"title":"CGC%","width":106,"height":131,
"encoding":{"x":{"field":"group","type":"nominal","title":null,"scale":{"type":"point","padding":0.5,"domain":["mRNA","LncRNA"]},"axis":{"labelAngle":0}}},
"layer":[
{"data":{"name":"stats"},"transform":[{"filter":"datum.panel==='CGC%_2'"}],"mark":{"type":"rule","color":"black","strokeWidth":1},"encoding":{"y":{"field":"lo","type":"quantitative","title":null,"scale":{"domain":[-0.038,0.85],"nice":false,"zero":false},"axis":{"values":[0,0.2,0.4,0.6,0.8],"tickCount":50,"labelExpr":"format(datum.value, '.1f')"}},"y2":{"field":"hi"}}},
{"data":{"name":"stats"},"transform":[{"filter":"datum.panel==='CGC%_2'"}],"mark":{"type":"tick","color":"black","size":8,"thickness":1},"encoding":{"y":{"field":"lo","type":"quantitative","title":null}}},
{"data":{"name":"stats"},"transform":[{"filter":"datum.panel==='CGC%_2'"}],"mark":{"type":"tick","color":"black","size":8,"thickness":1},"encoding":{"y":{"field":"hi","type":"quantitative","title":null}}},
{"data":{"name":"dense"},"transform":[{"filter":"datum.panel==='CGC%_2'"}],"mark":{"type":"rule","color":"black","strokeWidth":5},"encoding":{"y":{"field":"lo","type":"quantitative","title":null},"y2":{"field":"hi"}}},
{"data":{"name":"stats"},"transform":[{"filter":"datum.panel==='CGC%_2'"}],"mark":{"type":"bar","width":14,"fill":"#d8d2a0","stroke":"black","strokeWidth":0.7},"encoding":{"y":{"field":"q1","type":"quantitative","title":null},"y2":{"field":"q3"}}},
{"data":{"name":"stats"},"transform":[{"filter":"datum.panel==='CGC%_2'"}],"mark":{"type":"tick","color":"black","size":14,"thickness":2},"encoding":{"y":{"field":"med","type":"quantitative","title":null}}},
{"data":{"name":"stars"},"transform":[{"filter":"datum.panel==='CGC%_2'"}],"mark":{"type":"point","filled":false,"stroke":"black","strokeWidth":0.9,"size":28},"encoding":{"y":{"field":"value","type":"quantitative","title":null},"shape":{"field":"kind","type":"nominal","legend":null,"scale":{"domain":["extreme","outlier"],"range":["M0,-1L0,1M-0.866,-0.5L0.866,0.5M-0.866,0.5L0.866,-0.5","circle"]}}}}
]},
{"title":"G%","width":110,"height":131,
"encoding":{"x":{"field":"group","type":"nominal","title":null,"scale":{"type":"point","padding":0.5,"domain":["mRNA","LncRNA"]},"axis":{"labelAngle":0}}},
"layer":[
{"data":{"name":"stats"},"transform":[{"filter":"datum.panel==='G%'"}],"mark":{"type":"rule","color":"black","strokeWidth":1},"encoding":{"y":{"field":"lo","type":"quantitative","title":null,"scale":{"domain":[-0.0106,0.211],"nice":false,"zero":false},"axis":{"values":[0,0.05,0.1,0.15,0.2],"tickCount":50,"labelExpr":"format(datum.value, '.2f')"}},"y2":{"field":"hi"}}},
{"data":{"name":"stats"},"transform":[{"filter":"datum.panel==='G%'"}],"mark":{"type":"tick","color":"black","size":8,"thickness":1},"encoding":{"y":{"field":"lo","type":"quantitative","title":null}}},
{"data":{"name":"stats"},"transform":[{"filter":"datum.panel==='G%'"}],"mark":{"type":"tick","color":"black","size":8,"thickness":1},"encoding":{"y":{"field":"hi","type":"quantitative","title":null}}},
{"data":{"name":"dense"},"transform":[{"filter":"datum.panel==='G%'"}],"mark":{"type":"rule","color":"black","strokeWidth":5},"encoding":{"y":{"field":"lo","type":"quantitative","title":null},"y2":{"field":"hi"}}},
{"data":{"name":"stats"},"transform":[{"filter":"datum.panel==='G%'"}],"mark":{"type":"bar","width":14,"fill":"#d8d2a0","stroke":"black","strokeWidth":0.7},"encoding":{"y":{"field":"q1","type":"quantitative","title":null},"y2":{"field":"q3"}}},
{"data":{"name":"stats"},"transform":[{"filter":"datum.panel==='G%'"}],"mark":{"type":"tick","color":"black","size":14,"thickness":2},"encoding":{"y":{"field":"med","type":"quantitative","title":null}}},
{"data":{"name":"stars"},"transform":[{"filter":"datum.panel==='G%'"}],"mark":{"type":"point","filled":false,"stroke":"black","strokeWidth":0.9,"size":28},"encoding":{"y":{"field":"value","type":"quantitative","title":null},"shape":{"field":"kind","type":"nominal","legend":null,"scale":{"domain":["extreme","outlier"],"range":["M0,-1L0,1M-0.866,-0.5L0.866,0.5M-0.866,0.5L0.866,-0.5","circle"]}}}}
]},
{"title":"(G+C)%","width":110,"height":131,
"encoding":{"x":{"field":"group","type":"nominal","title":null,"scale":{"type":"point","padding":0.5,"domain":["mRNA","LncRNA"]},"axis":{"labelAngle":0}}},
"layer":[
{"data":{"name":"stats"},"transform":[{"filter":"datum.panel==='(G+C)%'"}],"mark":{"type":"rule","color":"black","strokeWidth":1},"encoding":{"y":{"field":"lo","type":"quantitative","title":null,"scale":{"domain":[-0.028,0.633],"nice":false,"zero":false},"axis":{"values":[0,0.1,0.2,0.3,0.4,0.5,0.6],"tickCount":50,"labelExpr":"format(datum.value, '.1f')"}},"y2":{"field":"hi"}}},
{"data":{"name":"stats"},"transform":[{"filter":"datum.panel==='(G+C)%'"}],"mark":{"type":"tick","color":"black","size":8,"thickness":1},"encoding":{"y":{"field":"lo","type":"quantitative","title":null}}},
{"data":{"name":"stats"},"transform":[{"filter":"datum.panel==='(G+C)%'"}],"mark":{"type":"tick","color":"black","size":8,"thickness":1},"encoding":{"y":{"field":"hi","type":"quantitative","title":null}}},
{"data":{"name":"dense"},"transform":[{"filter":"datum.panel==='(G+C)%'"}],"mark":{"type":"rule","color":"black","strokeWidth":5},"encoding":{"y":{"field":"lo","type":"quantitative","title":null},"y2":{"field":"hi"}}},
{"data":{"name":"stats"},"transform":[{"filter":"datum.panel==='(G+C)%'"}],"mark":{"type":"bar","width":14,"fill":"#d8d2a0","stroke":"black","strokeWidth":0.7},"encoding":{"y":{"field":"q1","type":"quantitative","title":null},"y2":{"field":"q3"}}},
{"data":{"name":"stats"},"transform":[{"filter":"datum.panel==='(G+C)%'"}],"mark":{"type":"tick","color":"black","size":14,"thickness":2},"encoding":{"y":{"field":"med","type":"quantitative","title":null}}},
{"data":{"name":"stars"},"transform":[{"filter":"datum.panel==='(G+C)%'"}],"mark":{"type":"point","filled":false,"stroke":"black","strokeWidth":0.9,"size":28},"encoding":{"y":{"field":"value","type":"quantitative","title":null},"shape":{"field":"kind","type":"nominal","legend":null,"scale":{"domain":["extreme","outlier"],"range":["M0,-1L0,1M-0.866,-0.5L0.866,0.5M-0.866,0.5L0.866,-0.5","circle"]}}}}
]}
],
"config": {
"font": "Liberation Sans Narrow, Liberation Sans, Arial, sans-serif",
"view": {"fill": "#f0f0f0", "stroke": "#3a3a3a", "strokeWidth": 1},
"axis": {"domain": false, "grid": false, "labelOverlap": false, "labelFont": "Liberation Sans Narrow, Liberation Sans, Arial, sans-serif", "labelFontSize": 8, "labelColor": "#222222", "tickColor": "#222222", "tickSize": 4, "labelPadding": 2},
"title": {"font": "Liberation Sans Narrow, Liberation Sans, Arial, sans-serif", "fontSize": 12, "fontWeight": "normal", "color": "#111111", "offset": 6}
}
}
